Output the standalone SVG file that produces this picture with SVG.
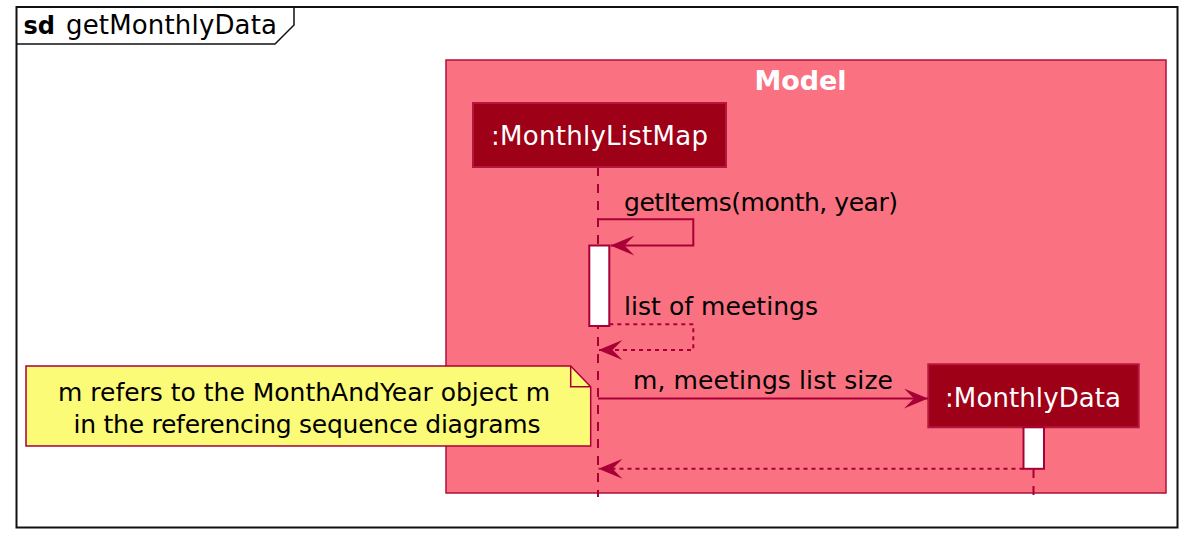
<svg xmlns="http://www.w3.org/2000/svg" width="1197" height="547" viewBox="0 0 1197 547">
<style>
  text { font-family: "DejaVu Sans", "Liberation Sans", sans-serif; font-size: 25px; }
  .msg { fill: #000000; }
  .part { fill: #FFFFFF; font-size: 26px; }
  .title { font-size: 26px; }
  .sd { font-size: 24px; font-weight: bold; }
  .model { font-size: 27px; font-weight: bold; fill: #FFFFFF; }
  .line { stroke: #A80036; stroke-width: 2; fill: none; }
  .dash { stroke: #A80036; stroke-width: 2; fill: none; stroke-dasharray: 4,4; }
  .life { stroke: #A80036; stroke-width: 2; fill: none; stroke-dasharray: 9,8; }
  .pbox { fill: #9E0017; stroke: #B5153E; stroke-width: 2; }
  .act { fill: #FFFFFF; stroke: #A80036; stroke-width: 2; }
</style>
<defs>
  <marker id="arr" viewBox="0 0 24 20" refX="24" refY="10" markerWidth="24" markerHeight="20" markerUnits="userSpaceOnUse" orient="auto">
    <path d="M0,0 L24,10 L0,20 L10,10 Z" fill="#A80036"/>
  </marker>
</defs>
<rect width="1197" height="547" fill="#FFFFFF"/>
<g id="frame">
  <rect x="16.5" y="7" width="1161" height="520.5" fill="none" stroke="#111111" stroke-width="2"/>
  <path d="M16.5,44 L275,44 L294,25 L294,7" fill="none" stroke="#111111" stroke-width="1.5"/>
  <text class="sd" x="23.5" y="34">sd</text>
  <text class="title" x="66" y="34" textLength="211">getMonthlyData</text>
</g>
<g id="Model">
  <rect x="446" y="60" width="720" height="433" fill="#FA7282" stroke="#B0103A" stroke-width="1.5"/>
  <text class="model" x="754.5" y="90" textLength="92">Model</text>
</g>
<g id="lifelines">
  <line class="life" x1="598" y1="167" x2="598" y2="497"/>
  <line class="life" x1="1033.5" y1="469" x2="1033.5" y2="497"/>
</g>
<g id="MonthlyListMap">
  <rect class="pbox" x="473" y="103" width="253" height="64"/>
  <text class="part" x="491" y="144.5" textLength="217">:MonthlyListMap</text>
  <rect class="act" x="589.3" y="245.5" width="20" height="80.5"/>
</g>
<g id="MonthlyData">
  <rect class="pbox" x="928.3" y="364.3" width="210.4" height="63"/>
  <text class="part" x="945" y="406.7" textLength="176">:MonthlyData</text>
  <rect class="act" x="1023.5" y="427.3" width="20.5" height="41.5"/>
</g>
<g id="note">
  <path d="M26,366 L570.7,366 L590.7,386.7 L590.7,446 L26,446 Z" fill="#FBFB77" stroke="#A80036" stroke-width="1.5"/>
  <path d="M570.7,366 L570.7,386.7 L590.7,386.7" fill="none" stroke="#A80036" stroke-width="1.5"/>
  <text class="msg" x="58" y="401" textLength="492">m refers to the MonthAndYear object m</text>
  <text class="msg" x="73.5" y="432.5" textLength="467">in the referencing sequence diagrams</text>
</g>
<g id="connectors">
  <path class="line" d="M598,219.3 L693.3,219.3 L693.3,245.5 L610.5,245.5" marker-end="url(#arr)"/>
  <text class="msg" x="624" y="210.5" textLength="274">getItems(month, year)</text>
  <path class="dash" d="M609.3,324.3 L693.3,324.3 L693.3,350 L598.5,350" marker-end="url(#arr)"/>
  <text class="msg" x="624" y="314.5" textLength="194">list of meetings</text>
  <path class="line" d="M598,398.5 L928,398.5" marker-end="url(#arr)"/>
  <text class="msg" x="633" y="388.5" textLength="260">m, meetings list size</text>
  <path class="dash" d="M1023.5,468.8 L598.5,468.8" marker-end="url(#arr)"/>
</g>
</svg>
